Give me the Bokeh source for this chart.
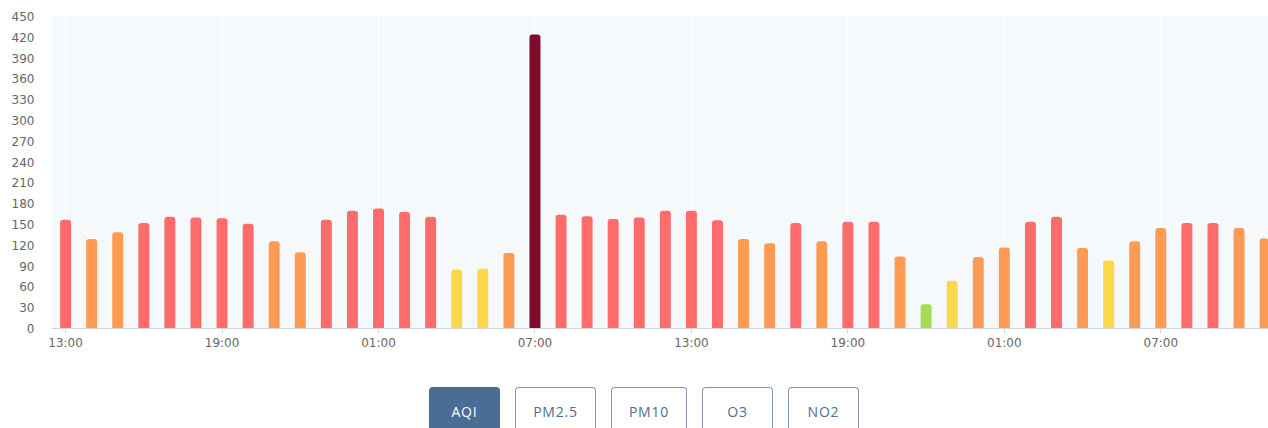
import pandas as pd
from bokeh.plotting import figure
from bokeh.models import (ColumnDataSource, Range1d, FixedTicker, Button, Spacer,
                          InlineStyleSheet)
from bokeh.layouts import column, row
from bokeh.embed import file_html
from bokeh.resources import INLINE

# ---- data ----
times = pd.date_range("2024-01-01 13:00", periods=47, freq="h")
hour_labels = list(times.strftime("%H:%M"))
aqi = [157, 129, 139, 152, 161, 160, 159, 151, 126, 110,
       157, 170, 173, 168, 161, 85, 86, 109, 424, 164,
       162, 158, 160, 170, 170, 156, 129, 123, 152, 126,
       154, 154, 104, 35, 69, 103, 117, 154, 161, 116,
       98, 126, 145, 152, 152, 145, 130]
y_ticks = list(range(0, 451, 30))
tabs = ["AQI", "PM2.5", "PM10", "O3", "NO2"]

GREEN, YELLOW, ORANGE, RED, PURPLE, DARK = "#a3dc55", "#fdd84b", "#fd9b52", "#fe6b6b", "#99004c", "#7e0a2c"


def level_color(v):
    if v <= 50:
        return GREEN
    if v <= 100:
        return YELLOW
    if v <= 150:
        return ORANGE
    if v <= 200:
        return RED
    if v <= 300:
        return PURPLE
    return DARK


idx = list(range(len(aqi)))
src = ColumnDataSource(dict(x=idx, y=aqi, color=[level_color(v) for v in aqi]))

p = figure(width=1260, height=362, output_backend="svg", toolbar_location=None,
           x_range=Range1d(-0.54, 46.13), y_range=Range1d(0, 450),
           min_border_left=42, min_border_right=0, min_border_top=8, min_border_bottom=42)
p.background_fill_color = "#f6f9fb"
p.border_fill_color = "white"
p.outline_line_color = None

p.vbar(x="x", top="y", width=0.42, bottom=0, color="color", source=src,
       line_color=None, border_radius=(3, 3, 0, 0))

x_tick_pos = [i for i in idx if i % 6 == 0]
p.xaxis.ticker = FixedTicker(ticks=x_tick_pos)
p.xaxis.major_label_overrides = {i: hour_labels[i] for i in x_tick_pos}
p.xaxis.axis_line_color = "#cdd7e1"
p.xaxis.major_tick_line_color = "#cdd7e1"
p.xaxis.major_tick_out = 5
p.xaxis.major_tick_in = 0
p.xaxis.minor_tick_line_color = None
p.xaxis.major_label_standoff = 2

p.yaxis.ticker = FixedTicker(ticks=y_ticks)
p.yaxis.axis_line_color = None
p.yaxis.major_tick_line_color = None
p.yaxis.minor_tick_line_color = None
p.yaxis.major_label_standoff = 11

for ax in (p.xaxis, p.yaxis):
    ax.major_label_text_font = "DejaVu Sans"
    ax.major_label_text_font_size = "12px"
    ax.major_label_text_color = "#666666"

p.xgrid.grid_line_color = "white"
p.xgrid.grid_line_width = 1.5
p.xgrid.grid_line_alpha = 0.8
p.ygrid.grid_line_color = None

base_css = """
.bk-btn { border-radius: 4px 4px 0 0 !important; font-family: 'Open Sans', sans-serif !important;
          font-size: 14px !important; letter-spacing: 0.8px; height: 100% !important;
          box-shadow: none !important; padding: 9px 0 3px 0 !important; }
.bk-btn.bk-btn-default { background-color: #ffffff !important; border: 1px solid #8497ab !important;
          border-bottom-width: 0 !important; color: #4c6e94 !important; }
"""
active_css = """
.bk-btn.bk-btn-default { background-color: #496d95 !important; border: 1px solid #496d95 !important;
          border-bottom-width: 0 !important; color: #ffffff !important; }
"""

widths = [71, 81, 76, 71, 71]
items = [Spacer(width=421, height=41)]
for i, (t, w) in enumerate(zip(tabs, widths)):
    sheets = [InlineStyleSheet(css=base_css)]
    if i == 0:
        sheets.append(InlineStyleSheet(css=active_css))
    items.append(Button(label=t, width=w, height=41, margin=0, stylesheets=sheets))
    if i < len(tabs) - 1:
        items.append(Spacer(width=15, height=41))

buttons = row(*items, margin=(17, 0, 0, 0))
layout = column(p, buttons, margin=(8, 0, 0, 8))

open("out.html", "w").write(file_html(layout, INLINE))
